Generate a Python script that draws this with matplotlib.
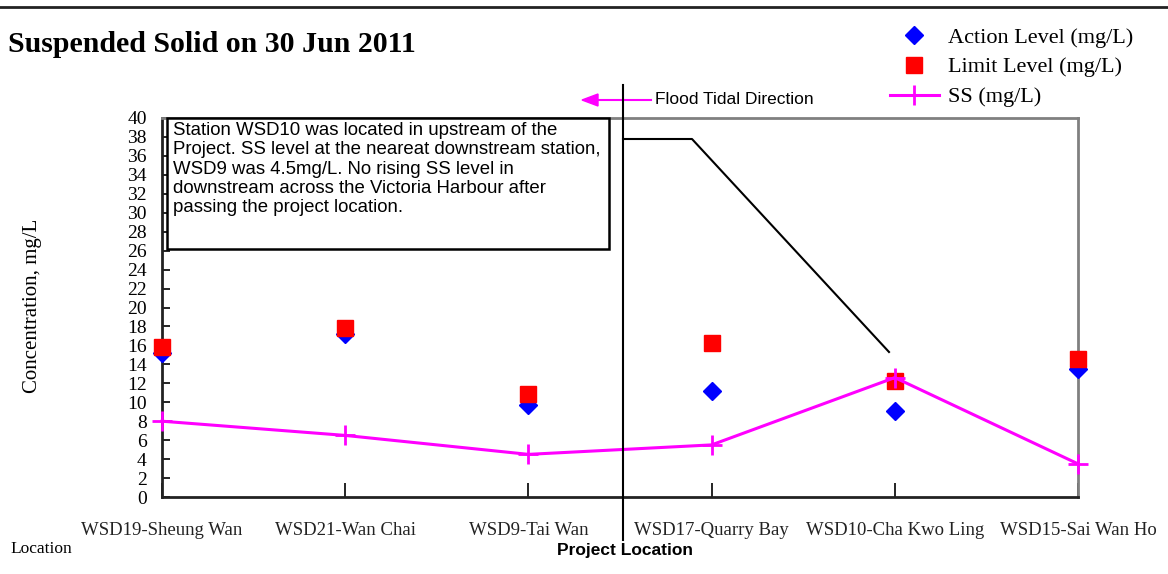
import matplotlib
matplotlib.use("Agg")
import matplotlib.pyplot as plt
from matplotlib.lines import Line2D

locations = ["WSD19-Sheung Wan", "WSD21-Wan Chai", "WSD9-Tai Wan",
             "WSD17-Quarry Bay", "WSD10-Cha Kwo Ling", "WSD15-Sai Wan Ho"]
action_level = [15.2, 17.2, 9.7, 11.2, 9.1, 13.5]
limit_level = [15.8, 17.8, 10.9, 16.3, 12.2, 14.6]
ss_values = [8.0, 6.5, 4.5, 5.5, 12.6, 3.5]
y_ticks = list(range(0, 41, 2))

SERIF = "Liberation Serif"
SANS = "Liberation Sans"
MAG = "#FF00FF"

fig = plt.figure(figsize=(11.68, 5.74), dpi=100)
W, H = 1168, 574

def fx(px):
    return px / W

def fy(py):
    return 1 - py / H

ax = fig.add_axes([fx(162), fy(497), fx(1078) - fx(162), fy(118) - fy(497)])
xs = list(range(len(locations)))

ax.plot(xs, action_level, linestyle="none", marker="D", markersize=9,
        color="#0000FF", clip_on=False, zorder=3, label="Action Level (mg/L)")
ax.plot(xs, limit_level, linestyle="none", marker="s", markersize=11,
        color="#FF0000", clip_on=False, zorder=4, label="Limit Level (mg/L)")
ax.plot(xs, ss_values, color=MAG, lw=2.2, marker="+", markersize=14,
        mew=2, clip_on=False, zorder=5, label="SS (mg/L)")

ax.set_xlim(0, 5)
ax.set_ylim(0, 40)
ax.set_yticks(y_ticks)
ax.set_yticklabels([str(v) for v in y_ticks], fontfamily=SERIF, fontsize=14)
ax.set_xticks(xs)
ax.set_xticklabels(locations, fontfamily=SERIF, fontsize=13.5, color="#222222")
ax.tick_params(axis="y", direction="in", length=6, width=1.2, pad=11)
ax.tick_params(axis="x", direction="in", length=10, width=1.2, pad=18)

for s in ("left", "bottom"):
    ax.spines[s].set_linewidth(2)
    ax.spines[s].set_color("#222222")
for s in ("top", "right"):
    ax.spines[s].set_linewidth(2)
    ax.spines[s].set_color("#808080")

# Title
fig.text(fx(8), fy(45), "Suspended Solid on 30 Jun 2011", fontfamily=SERIF,
         fontweight="bold", fontsize=21.5, va="center", ha="left")

# Y label
fig.text(fx(33), fy(306), "Concentration, mg/L", fontfamily=SERIF, fontsize=15,
         rotation=90, va="center", ha="center")

# Location labels
fig.text(fx(10), fy(549), "Location", fontfamily=SERIF, fontsize=12.5,
         va="center", ha="left")
fig.text(fx(625), fy(550), "Project Location", fontfamily=SANS, fontsize=12.5,
         fontweight="bold", va="center", ha="center")

# Legend
ax.legend(loc="upper left", bbox_to_anchor=(fx(890), fy(27)),
          bbox_transform=fig.transFigure, frameon=False, numpoints=1,
          prop={"family": SERIF, "size": 16}, handlelength=2.2,
          handletextpad=0.4, labelspacing=0.42, borderpad=0, borderaxespad=0)

# Top border line
fig.add_artist(Line2D([0, 1], [fy(7), fy(7)], color="#222222", lw=2,
                      transform=fig.transFigure))

# Project location vertical line
fig.add_artist(Line2D([fx(623), fx(623)], [fy(85), fy(540)], color="black",
                      lw=1.5, transform=fig.transFigure, zorder=6))

# Flood tidal direction arrow
fig.add_artist(Line2D([fx(596), fx(651)], [fy(100), fy(100)], color=MAG,
                      lw=1.5, transform=fig.transFigure))
fig.patches.append(plt.Polygon([[fx(582), fy(100)], [fx(598), fy(94)],
                                [fx(598), fy(106)]], closed=True, color=MAG,
                               transform=fig.transFigure, figure=fig))
fig.text(fx(655), fy(100), "Flood Tidal Direction", fontfamily=SANS,
         fontsize=12.5, va="center", ha="left")

# Annotation box
note = ("Station WSD10 was located in upstream of the\n"
        "Project. SS level at the neareat downstream station,\n"
        "WSD9 was 4.5mg/L. No rising SS level in\n"
        "downstream across the Victoria Harbour after\n"
        "passing the project location.")
box = plt.Rectangle((fx(167), fy(249)), fx(609) - fx(167), fy(118) - fy(249),
                    transform=fig.transFigure, facecolor="white",
                    edgecolor="black", lw=1.8, zorder=7, figure=fig)
fig.patches.append(box)
fig.text(fx(173), fy(122), note, fontfamily=SANS, fontsize=13.4,
         va="top", ha="left", linespacing=1.18, zorder=8)

# Connector line
fig.add_artist(Line2D([fx(623), fx(692), fx(889)], [fy(139), fy(139), fy(352)],
                      color="black", lw=1.5, transform=fig.transFigure))

fig.savefig("out.png", dpi=100)
